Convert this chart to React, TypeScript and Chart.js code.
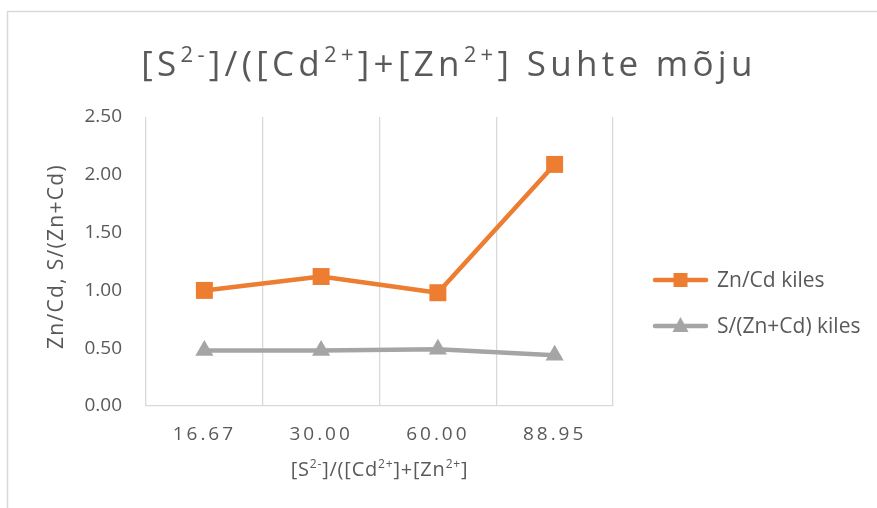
import React, { useEffect, useRef } from 'react';
import { Chart, registerables } from 'chart.js';

Chart.register(...registerables);

const categories = ['16.67', '30.00', '60.00', '88.95'];
const znCdValues = [1.0, 1.12, 0.98, 2.09];
const sZnCdValues = [0.48, 0.48, 0.49, 0.44];
const seriesNames = ['Zn/Cd kiles', 'S/(Zn+Cd) kiles'];
const seriesColors = ['#ED7D31', '#A5A5A5'];
const yMin = 0;
const yMax = 2.5;
const yStep = 0.5;
// [text, isSuperscript]
const titleParts: [string, boolean][] = [
  ['[S', false], ['2-', true], [']/([Cd', false], ['2+', true], [']+[Zn', false], ['2+', true], ['] Suhte mõju', false],
];
const xTitleParts: [string, boolean][] = [
  ['[S', false], ['2-', true], [']/([Cd', false], ['2+', true], [']+[Zn', false], ['2+', true], [']', false],
];
const yTitle = 'Zn/Cd, S/(Zn+Cd)';

const FAMILY = "'Open Sans', sans-serif";
const TEXT = '#595959';
const GRID = '#D9D9D9';

function drawRich(
  ctx: CanvasRenderingContext2D,
  parts: [string, boolean][],
  cx: number,
  baseline: number,
  size: number,
  supSize: number,
  rise: number,
  spacing: number,
) {
  ctx.save();
  ctx.fillStyle = TEXT;
  ctx.textAlign = 'left';
  ctx.textBaseline = 'alphabetic';
  (ctx as any).letterSpacing = spacing + 'px';
  const widths = parts.map(([t, s]) => {
    ctx.font = `${s ? supSize : size}px ${FAMILY}`;
    return ctx.measureText(t).width;
  });
  const total = widths.reduce((a, b) => a + b, 0);
  let x = cx - total / 2;
  parts.forEach(([t, s], i) => {
    ctx.font = `${s ? supSize : size}px ${FAMILY}`;
    ctx.fillText(t, x, s ? baseline - rise : baseline);
    x += widths[i];
  });
  ctx.restore();
}

const customPlugin = {
  id: 'customDecor',
  beforeDraw(chart: any) {
    const ctx = chart.ctx as CanvasRenderingContext2D;
    ctx.save();
    ctx.fillStyle = '#ffffff';
    ctx.fillRect(0, 0, chart.width, chart.height);
    ctx.strokeStyle = GRID;
    ctx.lineWidth = 1.5;
    ctx.strokeRect(7.5, 11.5, chart.width + 20, chart.height + 20);
    ctx.restore();
  },
  afterDraw(chart: any) {
    const ctx = chart.ctx as CanvasRenderingContext2D;
    const xs = chart.scales.x;
    const area = chart.chartArea;
    // title
    drawRich(ctx, titleParts, 449, 76, 35, 22, 14, 4.3);
    // x tick labels
    ctx.save();
    ctx.fillStyle = TEXT;
    ctx.font = `19px ${FAMILY}`;
    (ctx as any).letterSpacing = '3px';
    ctx.textAlign = 'center';
    ctx.textBaseline = 'alphabetic';
    categories.forEach((c, i) => {
      ctx.fillText(c, xs.getPixelForValue(i), 440);
    });
    ctx.restore();
    // x title
    drawRich(ctx, xTitleParts, (area.left + area.right) / 2, 476, 20, 12, 8, 0.8);
    // y title
    ctx.save();
    ctx.translate(63, (area.top + area.bottom) / 2 - 5);
    ctx.rotate(-Math.PI / 2);
    ctx.fillStyle = TEXT;
    ctx.font = `21px ${FAMILY}`;
    (ctx as any).letterSpacing = '1.3px';
    ctx.textAlign = 'center';
    ctx.textBaseline = 'alphabetic';
    ctx.fillText(yTitle, 0, 0);
    ctx.restore();
    // legend
    const legendY = [280, 326];
    seriesNames.forEach((name, i) => {
      const y = legendY[i];
      ctx.save();
      ctx.strokeStyle = seriesColors[i];
      ctx.fillStyle = seriesColors[i];
      ctx.lineWidth = 4.5;
      ctx.lineCap = 'round';
      ctx.beginPath();
      ctx.moveTo(655, y);
      ctx.lineTo(706, y);
      ctx.stroke();
      ctx.beginPath();
      if (i === 0) {
        ctx.rect(680.5 - 7, y - 7, 14, 14);
      } else {
        ctx.moveTo(680.5, y - 9);
        ctx.lineTo(688.5, y + 6);
        ctx.lineTo(672.5, y + 6);
        ctx.closePath();
      }
      ctx.fill();
      ctx.fillStyle = TEXT;
      ctx.font = `21px ${FAMILY}`;
      ctx.textAlign = 'left';
      ctx.textBaseline = 'alphabetic';
      ctx.fillText(name, 717, y + 7);
      ctx.restore();
    });
  },
};

export default function App() {
  const ref = useRef<HTMLCanvasElement | null>(null);
  useEffect(() => {
    if (!ref.current) return;
    const chart = new Chart(ref.current, {
      type: 'line',
      data: {
        labels: categories,
        datasets: [
          {
            label: seriesNames[0],
            data: znCdValues,
            borderColor: seriesColors[0],
            backgroundColor: seriesColors[0],
            borderWidth: 4.5,
            pointStyle: 'rect',
            pointRadius: 12,
            pointBorderWidth: 0,
            pointBackgroundColor: seriesColors[0],
            borderCapStyle: 'round',
            borderJoinStyle: 'round',
            tension: 0,
          },
          {
            label: seriesNames[1],
            data: sZnCdValues,
            borderColor: seriesColors[1],
            backgroundColor: seriesColors[1],
            borderWidth: 4.5,
            pointStyle: 'triangle',
            pointRadius: 10.5,
            pointBorderWidth: 0,
            pointBackgroundColor: seriesColors[1],
            borderCapStyle: 'round',
            borderJoinStyle: 'round',
            tension: 0,
          },
        ],
      },
      options: {
        animation: false,
        responsive: false,
        devicePixelRatio: 1,
        layout: { padding: { left: 0, top: 117, right: 264, bottom: 0 } },
        plugins: {
          legend: { display: false },
          title: { display: false },
          tooltip: { enabled: false },
        },
        scales: {
          x: {
            type: 'category',
            offset: true,
            grid: { offset: true, color: GRID, lineWidth: 1.3, drawTicks: false },
            border: { display: true, color: GRID, width: 1.3 },
            ticks: { display: false },
            afterFit: (s: any) => {
              s.height = 102;
            },
          },
          y: {
            min: yMin,
            max: yMax,
            grid: { display: false, drawTicks: false },
            border: { display: false },
            ticks: {
              stepSize: yStep,
              padding: 24,
              color: TEXT,
              font: { family: FAMILY, size: 19 },
              callback: (v: any) => Number(v).toFixed(2),
            },
            afterFit: (s: any) => {
              s.width = 146;
            },
          },
        },
      },
      plugins: [customPlugin],
    });
    return () => chart.destroy();
  }, []);
  return (
    <div style={{ position: 'absolute', left: 0, top: 0, width: 877, height: 508 }}>
      <canvas ref={ref} width={877} height={508} style={{ display: 'block' }} />
    </div>
  );
}
